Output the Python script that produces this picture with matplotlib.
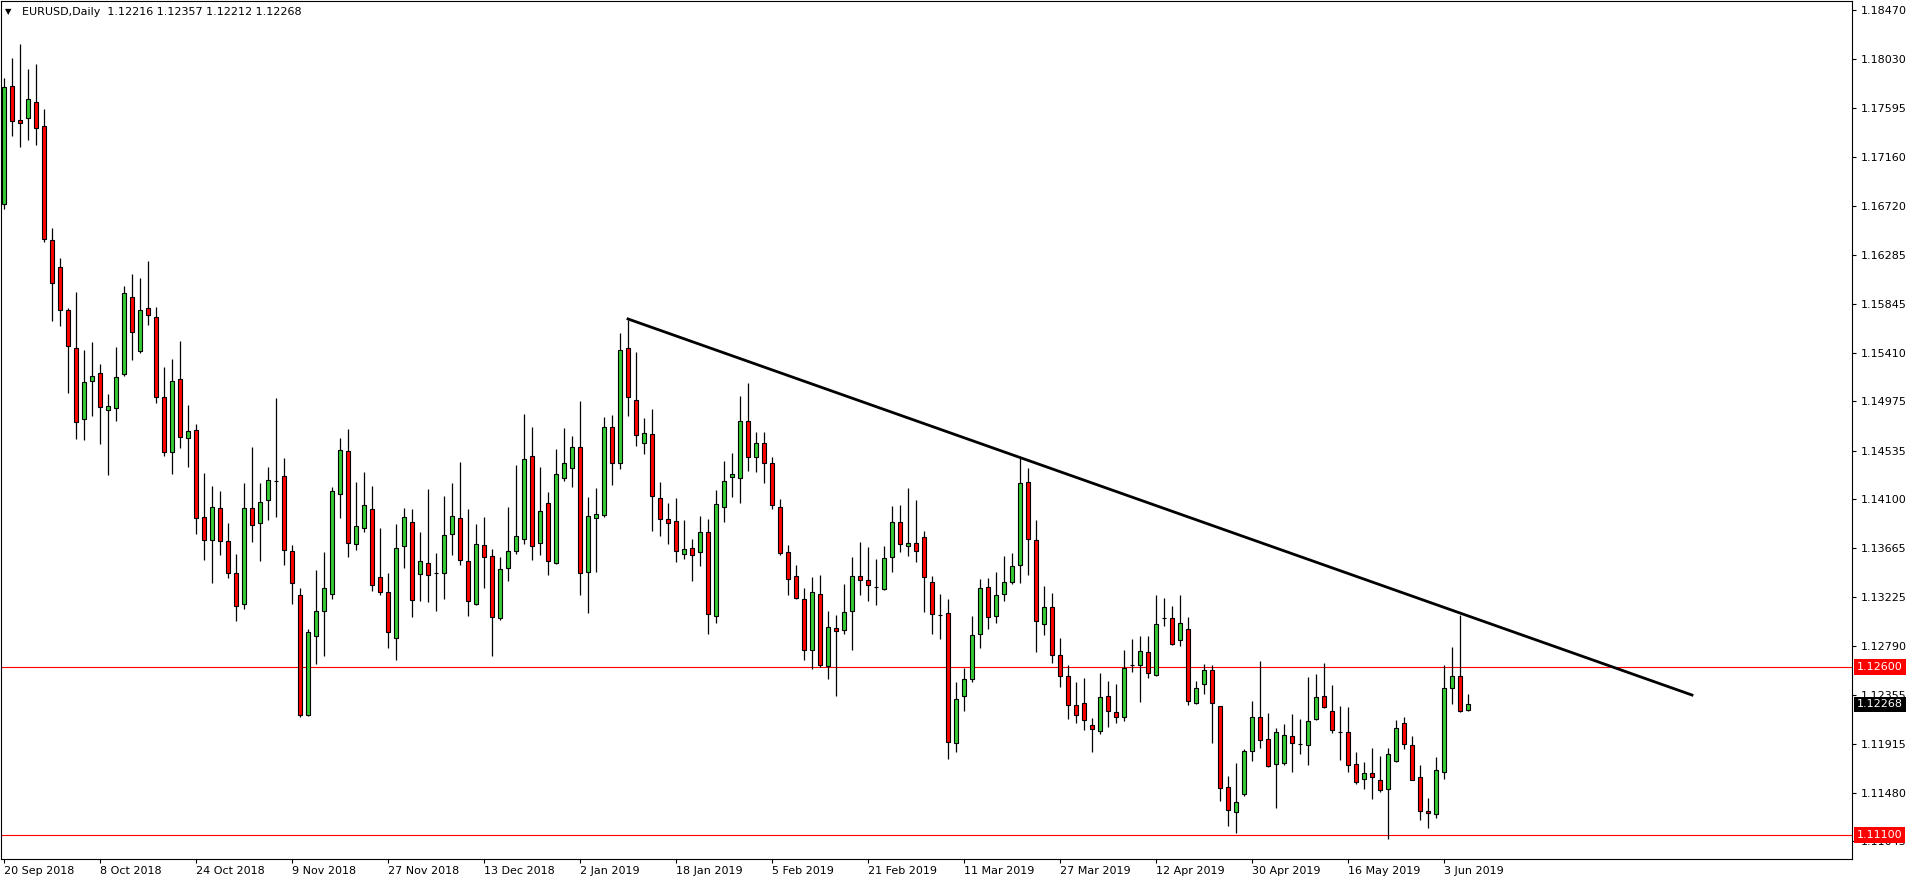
import matplotlib
matplotlib.use("Agg")
import matplotlib.pyplot as plt
import numpy as np
import pandas as pd

# EURUSD daily candles, 20 Sep 2018 .. 6 Jun 2019
opens = [1.16734, 1.17787, 1.17483, 1.17503, 1.17643, 1.17429, 1.16412, 1.16170, 1.15786, 1.15455,
         1.14814, 1.15153, 1.15226, 1.14894, 1.14913, 1.15216, 1.15905, 1.15420, 1.15812, 1.15727,
         1.15009, 1.14521, 1.15171, 1.14644, 1.14716, 1.13942, 1.13734, 1.14019, 1.13725, 1.13439,
         1.13162, 1.14019, 1.13885, 1.14091, 1.14267, 1.14305, 1.13635, 1.13243, 1.12171, 1.12877,
         1.13100, 1.13252, 1.14144, 1.14528, 1.13698, 1.13841, 1.14010, 1.13403, 1.13269, 1.12859,
         1.13680, 1.13894, 1.13430, 1.13528, 1.13442, 1.13439, 1.13793, 1.13930, 1.13546, 1.13162,
         1.13689, 1.13591, 1.13037, 1.13484, 1.13635, 1.13743, 1.14484, 1.13707, 1.14064, 1.13528,
         1.14287, 1.14377, 1.14564, 1.13448, 1.13930, 1.13957, 1.14743, 1.14421, 1.15448, 1.14984,
         1.14600, 1.14680, 1.14109, 1.13921, 1.13903, 1.13609, 1.13662, 1.13627, 1.13805, 1.13055,
         1.14028, 1.14296, 1.14287, 1.14796, 1.14475, 1.14600, 1.14420, 1.14028, 1.13627, 1.13412,
         1.13207, 1.12751, 1.13252, 1.12609, 1.12948, 1.12930, 1.13100, 1.13412, 1.13377, 1.13314,
         1.13296, 1.13582, 1.13894, 1.13680, 1.13707, 1.13760, 1.13359, 1.13069, 1.13082, 1.11926,
         1.12346, 1.12493, 1.12894, 1.13314, 1.13055, 1.13252, 1.13359, 1.13510, 1.14252, 1.13734,
         1.12984, 1.13135, 1.12707, 1.12519, 1.12260, 1.12278, 1.12082, 1.12028, 1.12341, 1.12198,
         1.12153, 1.12620, 1.12618, 1.12734, 1.12528, 1.13043, 1.13037, 1.12841, 1.12939, 1.12278,
         1.12448, 1.12573, 1.12250, 1.11528, 1.11305, 1.11466, 1.11850, 1.12153, 1.11957, 1.11734,
         1.11743, 1.11984, 1.11918, 1.11903, 1.12135, 1.12341, 1.12207, 1.12025, 1.12019, 1.11734,
         1.11600, 1.11653, 1.11591, 1.11510, 1.11760, 1.12100, 1.11903, 1.11618, 1.11314, 1.11287,
         1.11662, 1.12412, 1.12519, 1.12216]

highs = [1.17860, 1.18041, 1.18162, 1.17943, 1.17987, 1.17586, 1.16523, 1.16255, 1.15809, 1.15950,
         1.15433, 1.15503, 1.15309, 1.15041, 1.15459, 1.16003, 1.16112, 1.16077, 1.16227, 1.15816,
         1.15280, 1.15353, 1.15512, 1.14942, 1.14772, 1.14335, 1.14219, 1.14174, 1.13888, 1.13611,
         1.14245, 1.14567, 1.14245, 1.14386, 1.15002, 1.14466, 1.13689, 1.13305, 1.12942, 1.13466,
         1.13627, 1.14207, 1.14644, 1.14725, 1.14252, 1.14341, 1.14217, 1.13844, 1.13442, 1.13879,
         1.14022, 1.14013, 1.13808, 1.14192, 1.13620, 1.14129, 1.14245, 1.14433, 1.14013, 1.13879,
         1.13942, 1.13653, 1.13585, 1.14031, 1.14406, 1.14861, 1.14745, 1.14388, 1.14165, 1.14549,
         1.14736, 1.14665, 1.14977, 1.14120, 1.14201, 1.14832, 1.14850, 1.15582, 1.15701, 1.15415,
         1.14823, 1.14903, 1.14252, 1.14067, 1.14109, 1.13912, 1.13743, 1.13948, 1.13921, 1.14180,
         1.14439, 1.14510, 1.15019, 1.15138, 1.14700, 1.14700, 1.14480, 1.14100, 1.13689, 1.13510,
         1.13308, 1.13403, 1.13421, 1.13102, 1.13064, 1.13341, 1.13582, 1.13719, 1.13671, 1.13564,
         1.13680, 1.14037, 1.14046, 1.14198, 1.14091, 1.13814, 1.13415, 1.13254, 1.13210, 1.12466,
         1.12596, 1.13058, 1.13385, 1.13394, 1.13448, 1.13591, 1.13618, 1.14466, 1.14377, 1.13912,
         1.13326, 1.13260, 1.12859, 1.12618, 1.12466, 1.12501, 1.12144, 1.12546, 1.12475, 1.12448,
         1.12751, 1.12850, 1.12877, 1.12877, 1.13245, 1.13216, 1.13144, 1.13245, 1.13046, 1.12475,
         1.12627, 1.12618, 1.12252, 1.11626, 1.11743, 1.11868, 1.12296, 1.12653, 1.12189, 1.12055,
         1.12091, 1.12180, 1.12135, 1.12510, 1.12540, 1.12638, 1.12442, 1.12252, 1.12245, 1.11841,
         1.11751, 1.11876, 1.11805, 1.11876, 1.12127, 1.12153, 1.11984, 1.11725, 1.11430, 1.11796,
         1.12618, 1.12778, 1.13064, 1.12357]

lows = [1.16695, 1.17340, 1.17247, 1.17312, 1.17267, 1.16393, 1.15695, 1.15644, 1.15053, 1.14642,
        1.14633, 1.14846, 1.14597, 1.14320, 1.14802, 1.15197, 1.15347, 1.15410, 1.15660, 1.14964,
        1.14489, 1.14329, 1.14562, 1.14391, 1.13793, 1.13560, 1.13355, 1.13605, 1.13400, 1.13016,
        1.13120, 1.13721, 1.13551, 1.13918, 1.13944, 1.13516, 1.13162, 1.12153, 1.12162, 1.12632,
        1.12703, 1.13212, 1.13936, 1.13587, 1.13650, 1.13810, 1.13277, 1.13248, 1.12775, 1.12668,
        1.13489, 1.13051, 1.13194, 1.13185, 1.13105, 1.13212, 1.13605, 1.13510, 1.13060, 1.13153,
        1.13311, 1.12698, 1.13019, 1.13373, 1.13609, 1.13703, 1.13560, 1.13605, 1.13427, 1.13519,
        1.14266, 1.14212, 1.13248, 1.13087, 1.13453, 1.13942, 1.14225, 1.14373, 1.14846, 1.14578,
        1.14507, 1.13819, 1.13775, 1.13703, 1.13537, 1.13569, 1.13368, 1.13507, 1.12894, 1.12998,
        1.13900, 1.14118, 1.14064, 1.14352, 1.14346, 1.14248, 1.14016, 1.13605, 1.13248, 1.13210,
        1.12668, 1.12582, 1.12600, 1.12493, 1.12341, 1.12894, 1.12757, 1.13248, 1.13194, 1.13159,
        1.13287, 1.13453, 1.13627, 1.13591, 1.13537, 1.13091, 1.12900, 1.12852, 1.11778, 1.11846,
        1.12212, 1.12471, 1.12775, 1.12944, 1.12998, 1.13194, 1.13341, 1.13355, 1.13427, 1.12734,
        1.12891, 1.12635, 1.12421, 1.12135, 1.12100, 1.12040, 1.11841, 1.12001, 1.12064, 1.12100,
        1.12117, 1.12555, 1.12292, 1.12501, 1.12525, 1.12971, 1.12796, 1.12787, 1.12260, 1.12275,
        1.12359, 1.11921, 1.11403, 1.11180, 1.11118, 1.11448, 1.11760, 1.11876, 1.11707, 1.11346,
        1.11725, 1.11668, 1.11828, 1.11730, 1.12130, 1.12234, 1.12010, 1.11775, 1.11662, 1.11555,
        1.11510, 1.11421, 1.11483, 1.11064, 1.11751, 1.11868, 1.11590, 1.11239, 1.11162, 1.11252,
        1.11600, 1.12269, 1.12198, 1.12212]

closes = [1.17780, 1.17474, 1.17464, 1.17671, 1.17413, 1.16421, 1.16029, 1.15786, 1.15465, 1.14789,
          1.15143, 1.15197, 1.14923, 1.14929, 1.15191, 1.15940, 1.15593, 1.15786, 1.15742, 1.15012,
          1.14521, 1.15153, 1.14655, 1.14707, 1.13930, 1.13734, 1.14028, 1.13725, 1.13439, 1.13144,
          1.14019, 1.13868, 1.14073, 1.14269, 1.14266, 1.13644, 1.13350, 1.12171, 1.12912, 1.13100,
          1.13305, 1.14171, 1.14537, 1.13707, 1.13859, 1.14046, 1.13332, 1.13275, 1.12912, 1.13662,
          1.13939, 1.13198, 1.13546, 1.13421, 1.13442, 1.13778, 1.13948, 1.13555, 1.13189, 1.13698,
          1.13582, 1.13046, 1.13475, 1.13635, 1.13769, 1.14457, 1.13680, 1.13993, 1.13546, 1.14323,
          1.14421, 1.14564, 1.13439, 1.13948, 1.13966, 1.14743, 1.14421, 1.15430, 1.15011, 1.14671,
          1.14689, 1.14127, 1.13921, 1.13886, 1.13635, 1.13653, 1.13600, 1.13805, 1.13073, 1.14055,
          1.14260, 1.14323, 1.14796, 1.14475, 1.14600, 1.14420, 1.14046, 1.13618, 1.13385, 1.13216,
          1.12751, 1.13269, 1.12618, 1.12957, 1.12921, 1.13091, 1.13412, 1.13377, 1.13332, 1.13314,
          1.13573, 1.13894, 1.13698, 1.13707, 1.13635, 1.13403, 1.13073, 1.13069, 1.11935, 1.12314,
          1.12493, 1.12885, 1.13305, 1.13046, 1.13243, 1.13359, 1.13502, 1.14243, 1.13743, 1.13010,
          1.13135, 1.12707, 1.12519, 1.12260, 1.12171, 1.12127, 1.12046, 1.12332, 1.12207, 1.12153,
          1.12591, 1.12620, 1.12742, 1.12546, 1.12984, 1.13043, 1.12805, 1.12993, 1.12296, 1.12412,
          1.12573, 1.12278, 1.11519, 1.11323, 1.11394, 1.11850, 1.12153, 1.11948, 1.11716, 1.12019,
          1.11993, 1.11921, 1.11918, 1.12117, 1.12332, 1.12243, 1.12037, 1.12025, 1.11725, 1.11573,
          1.11653, 1.11618, 1.11501, 1.11823, 1.12055, 1.11912, 1.11596, 1.11314, 1.11296, 1.11680,
          1.12412, 1.12519, 1.12207, 1.12268]

# trading days (broker closed on 25 Dec and 1 Jan)
dates = pd.bdate_range("2018-09-20", "2019-06-06", freq="C",
                       holidays=["2018-12-25", "2019-01-01"])

price_ticks = [1.18470, 1.18030, 1.17595, 1.17160, 1.16720, 1.16285, 1.15845, 1.15410, 1.14975,
               1.14535, 1.14100, 1.13665, 1.13225, 1.12790, 1.12355, 1.11915, 1.11480, 1.11045]

levels = [1.12600, 1.11100]          # horizontal support / resistance
trend_bars = [78, 211]               # trendline anchors (bar index, price)
trend_prices = [1.15710, 1.12352]

o = np.array(opens)
h = np.array(highs)
l = np.array(lows)
c = np.array(closes)
idx = np.arange(len(o))

W, H = 1916, 884
fig = plt.figure(figsize=(W / 100, H / 100), dpi=100)
ax = fig.add_axes([1 / W, 25 / H, 1851 / W, 858 / H])

# wicks and bodies
ax.vlines(idx, l, h, color="black", linewidth=0.9, zorder=2)
cols = np.where(c > o, "#32cd32", np.where(c < o, "#ff0000", "black"))
ax.bar(idx, np.abs(c - o), bottom=np.minimum(o, c), width=0.62, color=cols,
       edgecolor="black", linewidth=0.8, zorder=3)

for lv in levels:
    ax.axhline(lv, color="#ff0000", linewidth=0.8, zorder=1)

ax.plot(trend_bars, trend_prices, color="black", linewidth=2.0, zorder=4)

ax.set_xlim(-0.375, 231)
ax.set_ylim(1.10888, 1.18549)

# axes style
for s in ax.spines.values():
    s.set_color("black")
    s.set_linewidth(0.8)

ax.yaxis.tick_right()
ax.set_yticks(price_ticks)
ax.set_yticklabels([f"{p:.5f}" for p in price_ticks])
ax.tick_params(axis="y", direction="out", length=3, width=0.8, pad=3, labelsize=8, colors="black")

tick_pos = idx[::12]
ax.set_xticks(tick_pos)
ax.set_xticklabels([f"{d.day} {d.strftime('%b %Y')}" for d in dates[::12]])
ax.tick_params(axis="x", direction="out", length=3, width=0.8, pad=2, labelsize=8, colors="black")
for lab in ax.get_xticklabels():
    lab.set_horizontalalignment("left")

# price labels on the right axis
box_x = 1.0 + 5 / 1851
for lv in levels:
    ax.text(box_x, lv, f"{lv:.5f}", transform=ax.get_yaxis_transform(), color="white",
            fontsize=8, va="center", ha="left", zorder=10, clip_on=False,
            bbox=dict(facecolor="#ff0000", edgecolor="none", boxstyle="square,pad=0.25"))
ax.text(box_x, c[-1], f"{c[-1]:.5f}", transform=ax.get_yaxis_transform(), color="white",
        fontsize=8, va="center", ha="left", zorder=10, clip_on=False,
        bbox=dict(facecolor="black", edgecolor="none", boxstyle="square,pad=0.25"))

# header
fig.text(5 / W, 1 - 12 / H, "\u25bc", fontsize=6, va="center", ha="left")
fig.text(22 / W, 1 - 12 / H,
         f"EURUSD,Daily  {o[-1]:.5f} {h[-1]:.5f} {l[-1]:.5f} {c[-1]:.5f}",
         fontsize=8, va="center", ha="left")

fig.savefig("out.png", dpi=100, facecolor="white")
